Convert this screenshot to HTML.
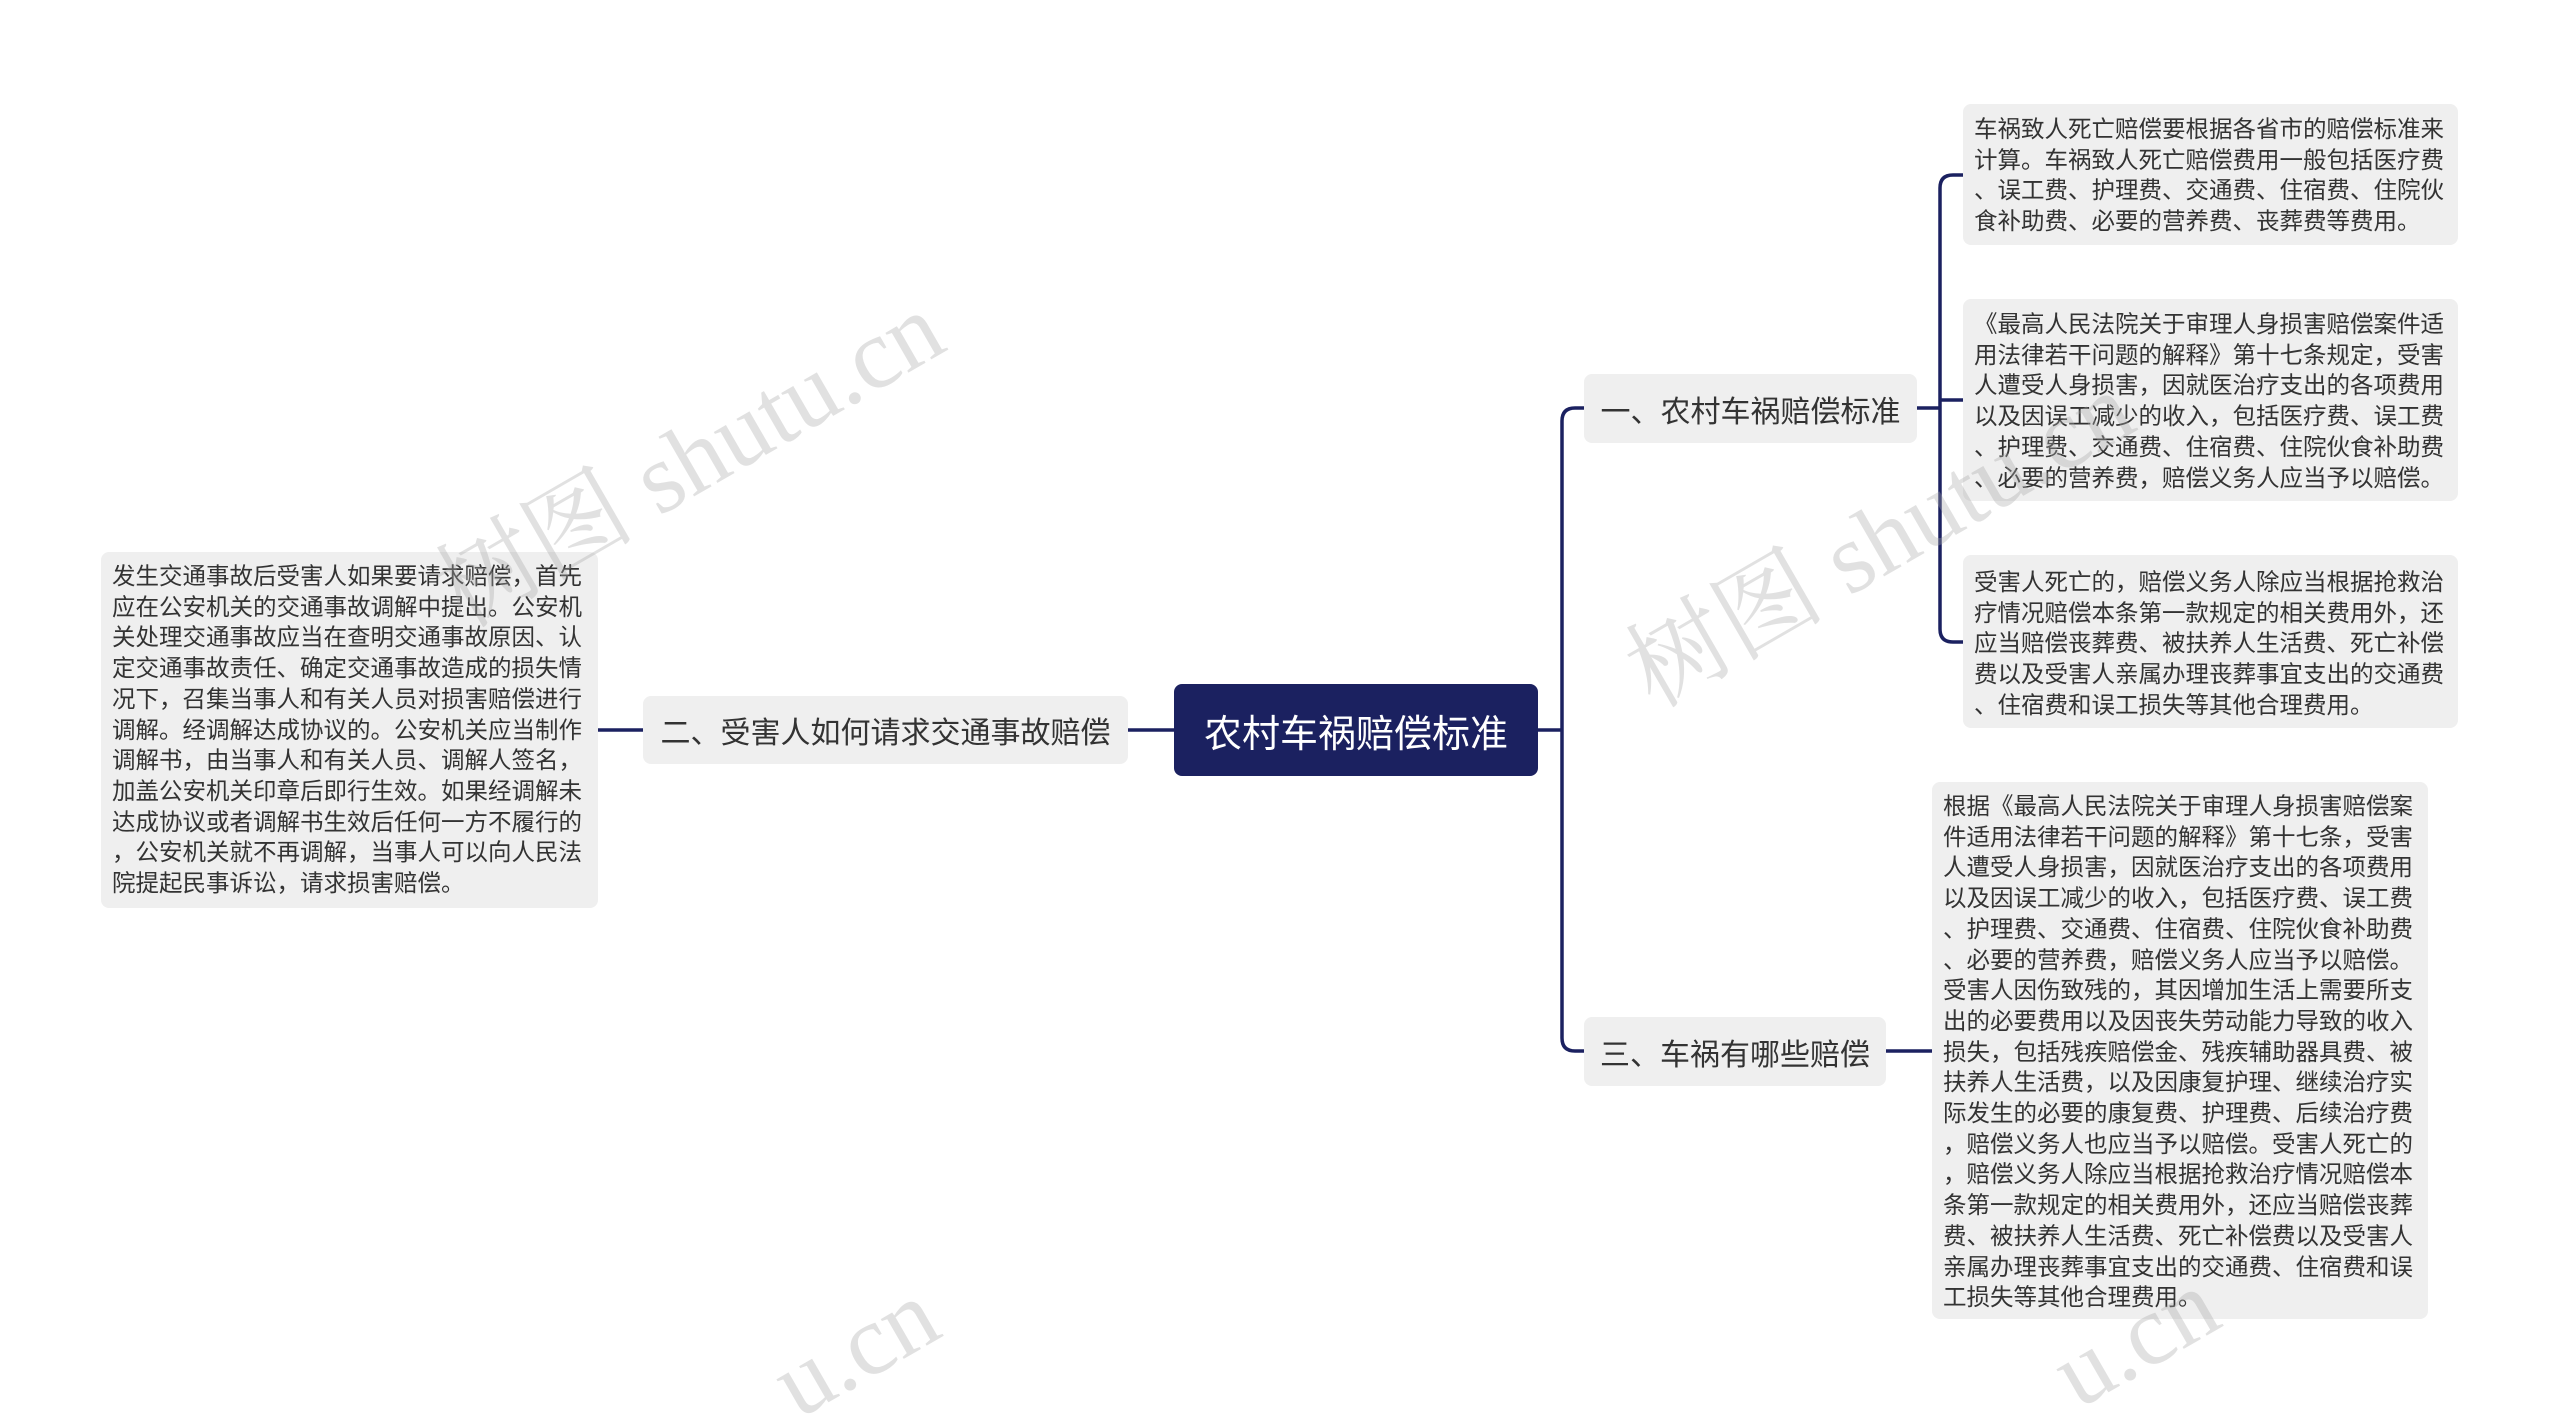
<!DOCTYPE html>
<html><head><meta charset="utf-8"><style>
html,body{margin:0;padding:0;background:#fff;width:2560px;height:1424px;overflow:hidden;}
body{position:relative;font-family:"Liberation Sans","Noto Sans CJK SC",sans-serif;}
.n{position:absolute;box-sizing:border-box;background:#efefef;border-radius:8px;color:#333;}
.t{font-size:23.5px;line-height:30.7px;padding:10px 11px;white-space:nowrap;}
.m{font-size:30px;display:flex;align-items:center;justify-content:center;white-space:nowrap;}
.c{background:#1b2160;color:#fff;font-size:38px;}
svg{position:absolute;left:0;top:0;overflow:hidden;}
</style></head><body>
<svg width="2560" height="1424" fill="none" stroke="#1b2160" stroke-width="3.5">
<path d="M1538 730 H1562"/>
<path d="M1584 408 H1575 Q1562 408 1562 421 V1038 Q1562 1051 1575 1051 H1584"/>
<path d="M1128 730 H1174"/>
<path d="M598 730 H643"/>
<path d="M1917 408 H1940"/>
<path d="M1963 175 H1953 Q1940 175 1940 188 V629 Q1940 642 1953 642 H1963"/>
<path d="M1940 400 H1963"/>
<path d="M1886 1051 H1932"/>
</svg>
<div class="n m c" style="left:1174px;top:684px;width:364px;height:92px;">农村车祸赔偿标准</div>
<div class="n m" style="left:1584px;top:374px;width:333px;height:69px;">一、农村车祸赔偿标准</div>
<div class="n m" style="left:1584px;top:1017px;width:302px;height:69px;">三、车祸有哪些赔偿</div>
<div class="n m" style="left:643px;top:696px;width:485px;height:68px;">二、受害人如何请求交通事故赔偿</div>
<div class="n t" style="left:101px;top:552px;width:497px;height:356px;padding-top:9px;">发生交通事故后受害人如果要请求赔偿，首先<br>应在公安机关的交通事故调解中提出。公安机<br>关处理交通事故应当在查明交通事故原因、认<br>定交通事故责任、确定交通事故造成的损失情<br>况下，召集当事人和有关人员对损害赔偿进行<br>调解。经调解达成协议的。公安机关应当制作<br>调解书，由当事人和有关人员、调解人签名，<br>加盖公安机关印章后即行生效。如果经调解未<br>达成协议或者调解书生效后任何一方不履行的<br>，公安机关就不再调解，当事人可以向人民法<br>院提起民事诉讼，请求损害赔偿。</div>
<div class="n t" style="left:1963px;top:104px;width:495px;height:141px;">车祸致人死亡赔偿要根据各省市的赔偿标准来<br>计算。车祸致人死亡赔偿费用一般包括医疗费<br>、误工费、护理费、交通费、住宿费、住院伙<br>食补助费、必要的营养费、丧葬费等费用。</div>
<div class="n t" style="left:1963px;top:299px;width:495px;height:202px;">《最高人民法院关于审理人身损害赔偿案件适<br>用法律若干问题的解释》第十七条规定，受害<br>人遭受人身损害，因就医治疗支出的各项费用<br>以及因误工减少的收入，包括医疗费、误工费<br>、护理费、交通费、住宿费、住院伙食补助费<br>、必要的营养费，赔偿义务人应当予以赔偿。</div>
<div class="n t" style="left:1963px;top:555px;width:495px;height:173px;padding-top:12px;">受害人死亡的，赔偿义务人除应当根据抢救治<br>疗情况赔偿本条第一款规定的相关费用外，还<br>应当赔偿丧葬费、被扶养人生活费、死亡补偿<br>费以及受害人亲属办理丧葬事宜支出的交通费<br>、住宿费和误工损失等其他合理费用。</div>
<div class="n t" style="left:1932px;top:782px;width:496px;height:537px;padding-top:9px;">根据《最高人民法院关于审理人身损害赔偿案<br>件适用法律若干问题的解释》第十七条，受害<br>人遭受人身损害，因就医治疗支出的各项费用<br>以及因误工减少的收入，包括医疗费、误工费<br>、护理费、交通费、住宿费、住院伙食补助费<br>、必要的营养费，赔偿义务人应当予以赔偿。<br>受害人因伤致残的，其因增加生活上需要所支<br>出的必要费用以及因丧失劳动能力导致的收入<br>损失，包括残疾赔偿金、残疾辅助器具费、被<br>扶养人生活费，以及因康复护理、继续治疗实<br>际发生的必要的康复费、护理费、后续治疗费<br>，赔偿义务人也应当予以赔偿。受害人死亡的<br>，赔偿义务人除应当根据抢救治疗情况赔偿本<br>条第一款规定的相关费用外，还应当赔偿丧葬<br>费、被扶养人生活费、死亡补偿费以及受害人<br>亲属办理丧葬事宜支出的交通费、住宿费和误<br>工损失等其他合理费用。</div>
<svg width="2560" height="1424" style="pointer-events:none">
<g font-family="Liberation Serif, Noto Serif CJK SC, serif" font-size="100" fill="rgba(170,170,170,0.35)">
<text x="690" y="460" text-anchor="middle" dominant-baseline="central" transform="rotate(-30 690 460)">树图 shutu.cn</text>
<text x="1880" y="540" text-anchor="middle" dominant-baseline="central" transform="rotate(-30 1880 540)">树图 shutu.cn</text>
<text x="945" y="1335" text-anchor="end" transform="rotate(-30 945 1335)">u.cn</text>
<text x="2225" y="1325" text-anchor="end" transform="rotate(-30 2225 1325)">u.cn</text>
</g>
</svg>
</body></html>
